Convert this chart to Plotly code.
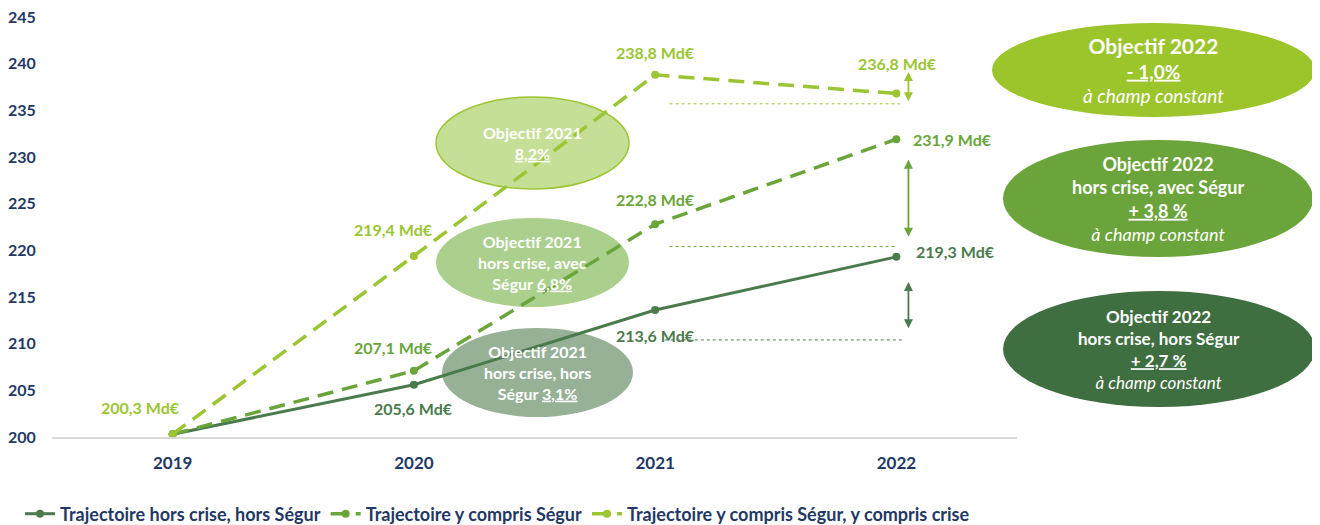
import plotly.graph_objects as go

# ---------------- data ----------------
years = ["2019", "2020", "2021", "2022"]
hors_crise_hors_segur = [200.3, 205.6, 213.6, 219.3]
y_compris_segur = [200.3, 207.1, 222.8, 231.9]
y_compris_segur_crise = [200.3, 219.4, 238.8, 236.8]
series_names = [
    "Trajectoire hors crise, hors Ségur",
    "Trajectoire y compris Ségur",
    "Trajectoire y compris Ségur, y compris crise",
]
y_ticks = [200, 205, 210, 215, 220, 225, 230, 235, 240, 245]
# which points carry a value label (per series)
labelled_dark = [False, True, True, True]
labelled_mid = [False, True, True, True]
labelled_light = [True, True, True, True]
# reference levels for the 2022 gaps
ref_levels = [235.7, 220.4, 210.4]

# ---------------- styles ----------------
DARK = "#4b7a4c"
MID = "#6aa53a"
LIGHT = "#9bc532"
NAVY = "#1f3864"
FONT = "Lato, Open Sans, sans-serif"

# the page body has an 8px margin: the figure is drawn 8px right/down
OFF = 8
FW, FH = 1320 - OFF, 525 - OFF
L, T, W, H = 52, 17, 965, 420   # plot area in window pixels


def px(x):
    return (x - L) / W


def py(y):
    return (T + H - y) / H


def fmt(v):
    return f"{v:.1f}".replace(".", ",") + " Md€"


fig = go.Figure()
fig.add_trace(go.Scatter(x=years, y=hors_crise_hors_segur, name=series_names[0],
                         mode="lines+markers", line=dict(color=DARK, width=3),
                         marker=dict(size=8, color=DARK)))
fig.add_trace(go.Scatter(x=years, y=y_compris_segur, name=series_names[1],
                         mode="lines+markers", line=dict(color=MID, width=3.5, dash="16px,9px"),
                         marker=dict(size=8, color=MID)))
fig.add_trace(go.Scatter(x=years, y=y_compris_segur_crise, name=series_names[2],
                         mode="lines+markers", line=dict(color=LIGHT, width=3.5, dash="16px,9px"),
                         marker=dict(size=8, color=LIGHT)))

annotations = []

# value labels (offsets in pixels)
dark_off = [(0, 0, "center"), (0, -24, "center"), (0, -25, "center"), (18, 5, "left")]
mid_off = [(0, 0, "center"), (-20, 23, "center"), (0, 25, "center"), (15, 0, "left")]
light_off = [(-32, 27, "center"), (-20, 26, "center"), (0, 22, "center"), (1, 30, "center")]
for vals, flags, offs, col in [
    (hors_crise_hors_segur, labelled_dark, dark_off, DARK),
    (y_compris_segur, labelled_mid, mid_off, MID),
    (y_compris_segur_crise, labelled_light, light_off, LIGHT),
]:
    for i, (v, f, o) in enumerate(zip(vals, flags, offs)):
        if not f:
            continue
        annotations.append(dict(x=i, y=v, xref="x", yref="y", text=f"<b>{fmt(v)}</b>",
                                showarrow=False, xshift=o[0], yshift=o[1], xanchor=o[2],
                                yanchor="middle",
                                font=dict(color=col, size=16, family=FONT)))

shapes = []
# dotted reference lines near 2022
ref_spans = [(2.06, 3.015), (2.06, 2.995), (2.04, 3.035)]
ref_cols = [LIGHT, MID, DARK]
for lvl, (a, b), c in zip(ref_levels, ref_spans, ref_cols):
    shapes.append(dict(type="line", xref="x", yref="y", x0=a, x1=b, y0=lvl, y1=lvl,
                       line=dict(color=c, width=1, dash="dot")))

# double arrows
arrow_specs = [(239.1, 235.8, LIGHT), (229.7, 221.3, MID), (216.6, 211.5, DARK)]
for top, bot, c in arrow_specs:
    annotations.append(dict(x=3.05, y=top, xref="x", yref="y", ax=3.05, ay=bot,
                            axref="x", ayref="y", text="", showarrow=True,
                            arrowhead=2, startarrowhead=2, arrowside="end+start",
                            arrowsize=1, startarrowsize=1, arrowwidth=1.8, arrowcolor=c))

# ellipses (window-pixel boxes) with text
ellipses = [
    ((436, 629, 97, 189), "#c6df96", LIGHT, 1.5,
     "<b>Objectif 2021</b><br><b><u>8,2%</u></b>", 16),
    ((436, 629, 218, 307), "#abcf8d", "#abcf8d", 0,
     "<b>Objectif 2021</b><br><b>hors crise, avec</b><br><b>Ségur <u>6,8%</u></b>", 16),
    ((442, 633, 328, 417), "#97b197", "#97b197", 0,
     "<b>Objectif 2021</b><br><b>hors crise, hors</b><br><b>Ségur <u>3,1%</u></b>", 16),
    ((992, 1315, 23, 117), "#9cc42b", "#9cc42b", 0,
     "<b><span style='font-size:21px'>Objectif 2022</span></b><br><b><u>- 1,0%</u></b><br><i>à champ constant</i>", 19),
    ((1003, 1313, 140, 257), "#6aa43a", "#6aa43a", 0,
     "<b>Objectif 2022</b><br><b>hors crise, avec Ségur</b><br><b><u>+ 3,8 %</u></b><br><i>à champ constant</i>", 18),
    ((1003, 1315, 291, 407), "#3f6e41", "#3f6e41", 0,
     "<b>Objectif 2022</b><br><b>hors crise, hors Ségur</b><br><b><u>+ 2,7 %</u></b><br><i>à champ constant</i>", 17),
]
for (x0, x1, y0, y1), fill, lc, lw, txt, fs in ellipses:
    shapes.append(dict(type="circle", xref="paper", yref="paper", layer="below",
                       x0=px(x0), x1=px(x1), y0=py(y1), y1=py(y0),
                       fillcolor=fill, line=dict(color=lc, width=lw)))
    annotations.append(dict(x=px((x0 + x1) / 2), y=py((y0 + y1) / 2), xref="paper", yref="paper",
                            xanchor="center", yanchor="middle",
                            text=txt, showarrow=False, align="center",
                            font=dict(color="white", size=fs, family=FONT)))

fig.update_layout(
    width=FW, height=FH,
    margin=dict(l=L - OFF, r=FW - (L - OFF) - W, t=T - OFF, b=FH - (T - OFF) - H, autoexpand=False),
    paper_bgcolor="white", plot_bgcolor="white",
    font=dict(family=FONT, color=NAVY),
    showlegend=True,
    legend=dict(orientation="h", xref="container", yref="container",
                x=(20 - OFF) / FW, y=(FH - (514 - OFF)) / FH, xanchor="left", yanchor="middle",
                font=dict(size=18, color=NAVY, family=FONT, weight="bold"),
                bgcolor="rgba(0,0,0,0)"),
    xaxis=dict(type="category", categoryorder="array", categoryarray=years,
               range=[-0.5, 3.5], showgrid=False, zeroline=False, automargin=False,
               showline=True, linecolor="#d9d9d9", linewidth=1.5,
               ticks="outside", ticklen=10, tickcolor="rgba(0,0,0,0)",
               tickfont=dict(size=17, color=NAVY, family=FONT, weight="bold")),
    yaxis=dict(range=[200, 245], tickvals=y_ticks, ticktext=[str(t) for t in y_ticks],
               showgrid=False, zeroline=False, showline=False, automargin=False,
               ticks="outside", ticklen=12, tickcolor="rgba(0,0,0,0)",
               ticklabeloverflow="allow",
               tickfont=dict(size=16, color=NAVY, family=FONT, weight="bold")),
    shapes=shapes,
    annotations=annotations,
)

fig.write_html("out.html")
